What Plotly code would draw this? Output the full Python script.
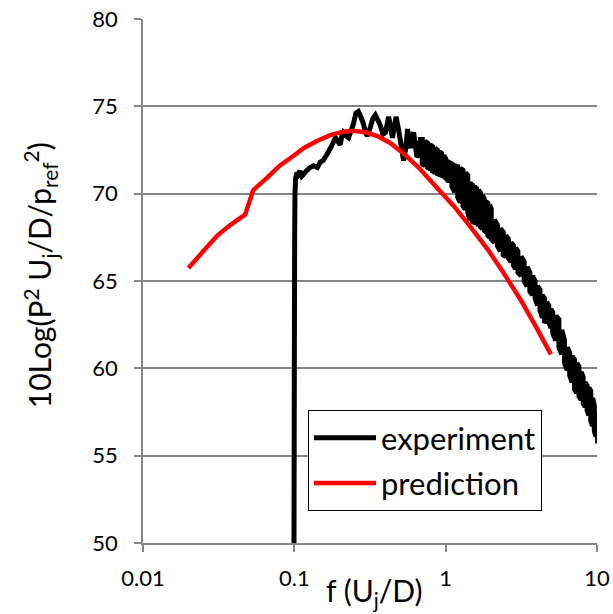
import plotly.graph_objects as go

# ---------------- data ----------------
# experiment, low-frequency part (individual wiggles readable)
exp_f = [0.0990, 0.0995, 0.1000, 0.1005, 0.1010, 0.1020, 0.1040, 0.1060, 0.1090, 0.1120,
         0.1150, 0.1200, 0.1270, 0.1340, 0.1420, 0.1480, 0.1550, 0.1630, 0.1730, 0.1800,
         0.1870, 0.1940, 0.2010, 0.2060, 0.2110, 0.2200, 0.2280, 0.2370, 0.2460, 0.2550,
         0.2650, 0.2750, 0.2860, 0.2950, 0.3040, 0.3180, 0.3300, 0.3430, 0.3570, 0.3700,
         0.3850, 0.4000, 0.4200, 0.4450, 0.4700, 0.4900, 0.5050, 0.5270, 0.5450, 0.5600,
         0.5750, 0.5860, 0.6000, 0.6140, 0.6300, 0.6450, 0.6600, 0.6800]
exp_v = [45.0, 50.0, 60.0, 67.5, 70.0, 70.9, 71.2, 71.1, 71.3, 71.0,
         71.1, 71.3, 71.5, 71.6, 71.5, 71.8, 71.9, 72.2, 72.6, 72.9,
         73.2, 73.0, 72.8, 73.3, 73.5, 73.3, 73.2, 73.6, 74.0, 74.6,
         74.7, 74.4, 74.0, 73.5, 73.3, 73.8, 74.3, 74.5, 74.2, 73.9,
         73.4, 73.5, 74.4, 73.2, 74.4, 73.6, 72.9, 71.9, 72.6, 73.7,
         73.0, 72.6, 73.3, 73.5, 72.8, 72.1, 72.2, 73.1]

# experiment, high-frequency part: fast fluctuation between these peak / trough values
band_f = [0.70, 0.73, 0.76, 0.79, 0.82, 0.85, 0.88, 0.91, 0.94, 0.97, 1.00,
          1.05, 1.10, 1.15, 1.20, 1.25, 1.30, 1.35, 1.40, 1.45, 1.50,
          1.55, 1.60, 1.65, 1.70, 1.75, 1.80, 1.85, 1.90, 1.95, 2.00,
          2.1, 2.2, 2.3, 2.4, 2.5, 2.6, 2.7, 2.8, 2.9, 3.0,
          3.15, 3.30, 3.45, 3.60, 3.75, 3.90, 4.05, 4.20, 4.35, 4.50,
          4.65, 4.80, 4.95, 5.10, 5.35, 5.60, 5.85, 6.10, 6.35, 6.60,
          6.85, 7.10, 7.35, 7.60, 7.85, 8.10, 8.35, 8.60, 8.85, 9.10,
          9.35, 9.60, 9.85, 10.1]
band_hi = [73.1, 73.0, 72.9, 72.8, 72.7, 72.6, 72.5, 72.4, 72.3, 72.2, 72.0,
           71.8, 71.7, 71.6, 71.55, 71.45, 71.35, 71.2, 71.05, 70.6, 70.5,
           70.4, 70.3, 70.2, 70.05, 69.9, 69.7, 69.55, 69.45, 69.35, 69.15,
           68.5, 68.2, 68.0, 67.8, 67.6, 67.4, 67.2, 67.05, 66.9, 66.7,
           66.4, 66.1, 65.8, 65.5, 65.3, 65.0, 64.7, 64.5, 64.2, 64.0,
           63.8, 63.6, 63.4, 63.2, 63.0, 62.8, 62.2, 61.6, 61.2, 60.9,
           60.7, 60.5, 60.3, 60.1, 59.8, 59.5, 59.2, 59.0, 58.9, 58.7,
           58.3, 57.9, 57.5, 57.1]
band_lo = [71.7, 71.6, 71.5, 71.4, 71.3, 71.2, 71.15, 71.1, 71.05, 71.0, 70.9,
           70.7, 70.4, 70.1, 69.8, 69.5, 69.3, 69.1, 68.9, 68.5, 68.4,
           68.35, 68.3, 68.2, 68.1, 68.0, 67.9, 67.8, 67.6, 67.5, 67.4,
           67.2, 67.0, 66.7, 66.5, 66.4, 66.3, 66.1, 65.9, 65.7, 65.5,
           65.3, 65.0, 64.7, 64.4, 64.2, 64.0, 63.6, 63.3, 62.9, 62.6,
           62.8, 62.7, 62.3, 62.0, 61.6, 61.2, 60.8, 60.3, 59.9, 59.6,
           59.2, 58.8, 58.6, 58.4, 58.2, 58.0, 57.8, 57.6, 57.3, 57.0,
           56.7, 56.4, 56.1, 55.7]

pred_f = [0.020, 0.025, 0.031, 0.0377, 0.0473, 0.0535, 0.066, 0.080, 0.100, 0.115,
          0.140, 0.173, 0.210, 0.246, 0.300, 0.354, 0.430, 0.527, 0.680, 0.885,
          1.13, 1.46, 1.90, 2.40, 3.14, 4.00, 4.96]
pred_v = [65.75, 66.7, 67.6, 68.2, 68.8, 70.2, 70.9, 71.6, 72.2, 72.6,
          73.0, 73.35, 73.55, 73.6, 73.5, 73.3, 72.9, 72.3, 71.4, 70.3,
          69.3, 68.1, 66.8, 65.5, 63.9, 62.3, 60.8]

x_ticks = [0.01, 0.1, 1, 10]
x_ticktext = ["0.01", "0.1", "1", "10"]
y_ticks = [50, 55, 60, 65, 70, 75, 80]

series_names = ["experiment", "prediction"]
# ---------------------------------------------------------------

# experiment trace: low-frequency readings, then alternate peak/trough per frequency
ex_x = list(exp_f)
ex_y = list(exp_v)
for i, f in enumerate(band_f):
    pair = (band_hi[i], band_lo[i]) if i % 2 == 0 else (band_lo[i], band_hi[i])
    ex_x += [f, f]
    ex_y += list(pair)

FONT = "Lato"
GRID = "#868686"

fig = go.Figure()
fig.add_trace(go.Scatter(x=ex_x, y=ex_y, mode="lines", name=series_names[0],
                         legendgroup="a",
                         line=dict(color="black", width=5, simplify=False)))
fig.add_trace(go.Scatter(x=pred_f, y=pred_v, mode="lines", name=series_names[1],
                         legendgroup="b",
                         line=dict(color="#FF0000", width=4.5, simplify=False)))

fig.update_layout(
    width=613, height=614,
    margin=dict(l=143, r=16, t=19, b=71),
    paper_bgcolor="white", plot_bgcolor="white",
    font=dict(family=FONT, color="black"),
    showlegend=True,
    legend=dict(x=0.3634, y=0.2538, xanchor="left", yanchor="top",
                bgcolor="white", bordercolor="black", borderwidth=1,
                font=dict(family=FONT, size=31, color="black"),
                itemwidth=62, tracegroupgap=2),
    xaxis=dict(type="log", range=[-2, 1], tickvals=x_ticks, ticktext=x_ticktext,
               showgrid=False, zeroline=False, automargin=False,
               showline=True, linecolor=GRID, linewidth=1.5,
               ticks="outside", ticklen=7, tickcolor=GRID, tickwidth=1.5,
               tickfont=dict(family=FONT, size=22, color="black"),
               ticklabelstandoff=8),
    yaxis=dict(range=[50, 80], tickvals=y_ticks, automargin=False,
               showgrid=True, gridcolor=GRID, gridwidth=1.5, zeroline=False,
               showline=True, linecolor=GRID, linewidth=1.5,
               ticks="outside", ticklen=7, tickcolor=GRID, tickwidth=1.5,
               tickfont=dict(family=FONT, size=22, color="black"),
               ticklabelstandoff=12),
    annotations=[
        dict(text="f (U<sub>j</sub>/D)", xref="paper", yref="paper",
             x=0.511, y=-0.094, xanchor="center", yanchor="middle",
             showarrow=False, font=dict(family=FONT, size=30, color="black")),
        dict(text="10Log(P<sup>2</sup> U<sub>j</sub>/D/p<sub>ref</sub><sup>2</sup>)",
             xref="paper", yref="paper", x=-0.227, y=0.511, textangle=-90,
             xanchor="center", yanchor="middle",
             showarrow=False, font=dict(family=FONT, size=30, color="black")),
    ],
)

fig.write_html("out.html")
